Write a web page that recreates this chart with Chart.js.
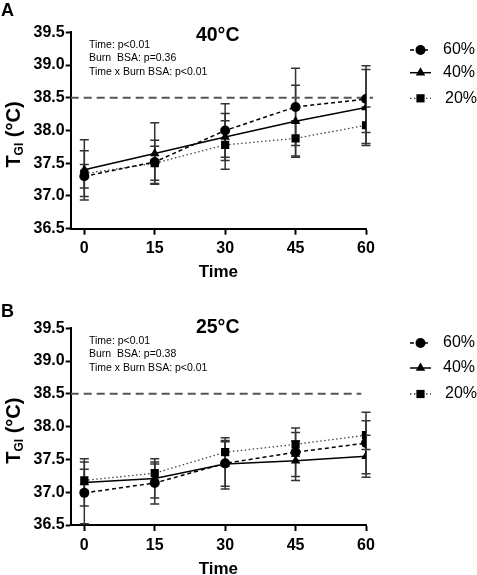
<!DOCTYPE html>
<html>
<head>
<meta charset="utf-8">
<script src="https://cdn.jsdelivr.net/npm/chart.js@4.4.1/dist/chart.umd.min.js"></script>
<style>
  body { margin: 0; background: #fff; }
  #wrap { position: relative; width: 477px; height: 575px; }
  canvas { position: absolute; left: 0; }
</style>
</head>
<body>
<div id="wrap">
  <canvas id="chartA" width="477" height="287" style="top:0"></canvas>
  <canvas id="chartB" width="477" height="288" style="top:287px"></canvas>
</div>
<script>
// --- data ---
var times = [0, 15, 30, 45, 60];
var xTicks = [0, 15, 30, 45, 60];
var yMin = 36.5, yMax = 39.5, yStep = 0.5;
var xMin = -2.9, xMax = 60;
var seriesNames = ['60%', '40%', '20%'];
var refTemp = 38.5;

// panel A, 40°C
var a60 = [37.30, 37.52, 38.00, 38.36, 38.48];
var a60Sd = [0.18, 0.33, 0.41, 0.59, 0.51];
var a40 = [37.40, 37.65, 37.90, 38.14, 38.35];
var a40Sd = [0.46, 0.47, 0.36, 0.55, 0.58];
var a20 = [37.34, 37.50, 37.78, 37.88, 38.08];
var a20Sd = [0.35, 0.26, 0.37, 0.27, 0.28];
var refSpanA = [-2.9, 61.5];
var statsA = ['Time: p<0.01', 'Burn  BSA: p=0.36', 'Time x Burn BSA: p<0.01'];

// panel B, 25°C
var b60 = [36.99, 37.14, 37.44, 37.61, 37.75];
var b60Sd = [0.47, 0.32, 0.39, 0.37, 0.47];
var b40 = [37.15, 37.21, 37.43, 37.48, 37.55];
var b40Sd = [0.36, 0.30, 0.34, 0.30, 0.32];
var b20 = [37.18, 37.29, 37.61, 37.73, 37.87];
var b20Sd = [0.17, 0.14, 0.18, 0.18, 0.22];
var refSpanB = [-2.9, 59];
var statsB = ['Time: p<0.01', 'Burn  BSA: p=0.38', 'Time x Burn BSA: p<0.01'];

var FONT = '"Liberation Sans", Arial, sans-serif';

// line / marker look for 60%, 40%, 20%
var styles = [
    { dash: [4, 3], width: 1.5, color: '#000', point: 'circle', radius: 5 },
    { dash: [], width: 1.5, color: '#000', point: 'triangle', radius: 5.5 },
    { dash: [1.5, 2.5], width: 1.3, color: '#444', point: 'rect', radius: 5.8 }
];

function toPoints(vals) {
    return vals.map(function(v, i) { return { x: times[i], y: v }; });
}

// error bars drawn under the lines and markers
var errorBars = {
    id: 'errorBars',
    beforeDatasetsDraw: function(chart) {
        var ctx = chart.ctx, xs = chart.scales.x, ys = chart.scales.y;
        ctx.save();
        ctx.strokeStyle = '#333';
        ctx.lineWidth = 1.5;
        chart.data.datasets.forEach(function(ds) {
            if (!ds.sd) return;
            ds.data.forEach(function(p, i) {
                var px = xs.getPixelForValue(p.x);
                var top = ys.getPixelForValue(p.y + ds.sd[i]);
                var bot = ys.getPixelForValue(p.y - ds.sd[i]);
                ctx.beginPath();
                ctx.moveTo(px, top); ctx.lineTo(px, bot);
                ctx.moveTo(px - 4.5, top); ctx.lineTo(px + 4.5, top);
                ctx.moveTo(px - 4.5, bot); ctx.lineTo(px + 4.5, bot);
                ctx.stroke();
            });
        });
        ctx.restore();
    }
};

// panel letter, heading, stats, axis titles and legend
var panelText = {
    id: 'panelText',
    afterDraw: function(chart) {
        var o = chart.options.plugins.panelText;
        var ctx = chart.ctx, area = chart.chartArea;
        ctx.save();
        ctx.fillStyle = '#000';

        ctx.font = 'bold 18px ' + FONT;
        ctx.textAlign = 'left';
        ctx.textBaseline = 'alphabetic';
        ctx.fillText(o.letter, 1, o.letterY);

        ctx.font = 'bold 19.5px ' + FONT;
        ctx.textAlign = 'right';
        ctx.fillText(o.heading, 239.5, o.headingY);

        ctx.font = '10.5px ' + FONT;
        ctx.textAlign = 'left';
        ctx.textBaseline = 'middle';
        o.stats.forEach(function(s, i) {
            ctx.fillText(s, 89, o.statsY + i * 13.4);
        });

        // x title
        ctx.font = 'bold 17px ' + FONT;
        ctx.textAlign = 'center';
        ctx.textBaseline = 'alphabetic';
        ctx.fillText('Time', (area.left + area.right) / 2, area.bottom + 48.5);

        // y title: T with subscript GI
        ctx.save();
        ctx.translate(20, (area.top + area.bottom) / 2 + 4);
        ctx.rotate(-Math.PI / 2);
        var big = 'bold 20px ' + FONT, small = 'bold 12px ' + FONT;
        ctx.font = big; var w1 = ctx.measureText('T').width;
        ctx.font = small; var w2 = ctx.measureText('GI').width;
        ctx.font = big; var w3 = ctx.measureText(' (°C)').width;
        var x0 = -(w1 + w2 + w3) / 2;
        ctx.textAlign = 'left';
        ctx.font = big; ctx.fillText('T', x0, 0);
        ctx.font = small; ctx.fillText('GI', x0 + w1, 2.5);
        ctx.font = big; ctx.fillText(' (°C)', x0 + w1 + w2, 0);
        ctx.restore();

        // legend
        ctx.textBaseline = 'middle';
        ctx.textAlign = 'left';
        ctx.font = '16px ' + FONT;
        seriesNames.forEach(function(name, i) {
            var st = styles[i], y = o.legendY[i];
            ctx.save();
            ctx.strokeStyle = st.color;
            ctx.lineWidth = st.width;
            ctx.setLineDash(st.dash);
            ctx.beginPath();
            ctx.moveTo(410, y); ctx.lineTo(431, y);
            ctx.stroke();
            ctx.setLineDash([]);
            ctx.fillStyle = '#000';
            Chart.helpers.drawPoint(ctx, { pointStyle: st.point, radius: st.radius, rotation: 0 }, 420.5, y);
            ctx.restore();
            ctx.fillText(name, i === 2 ? 445 : 443, y);
        });
        ctx.restore();
    }
};

function makeChart(id, vals, sds, refSpan, text, padTop, xHeight) {
    var datasets = vals.map(function(v, i) {
        var st = styles[i];
        return {
            label: seriesNames[i],
            data: toPoints(v),
            sd: sds[i],
            borderColor: st.color,
            borderWidth: st.width,
            borderDash: st.dash,
            pointStyle: st.point,
            pointRadius: st.radius,
            pointBackgroundColor: '#000',
            pointBorderColor: '#000',
            pointBorderWidth: 0,
            tension: 0,
            fill: false
        };
    });
    datasets.push({
        label: 'ref',
        data: [{ x: refSpan[0], y: refTemp }, { x: refSpan[1], y: refTemp }],
        borderColor: '#555',
        borderWidth: 2,
        borderDash: [8, 5],
        pointRadius: 0,
        clip: false,
        order: 5
    });

    return new Chart(document.getElementById(id).getContext('2d'), {
        type: 'line',
        data: { datasets: datasets },
        options: {
            responsive: false,
            animation: false,
            layout: { padding: { top: padTop, right: 111, left: 0, bottom: 0 } },
            plugins: {
                legend: { display: false },
                tooltip: { enabled: false },
                panelText: text
            },
            scales: {
                x: {
                    type: 'linear',
                    min: xMin,
                    max: xMax,
                    afterBuildTicks: function(s) {
                        s.ticks = xTicks.map(function(v) { return { value: v }; });
                    },
                    afterFit: function(s) { s.height = xHeight; },
                    grid: { display: true, drawOnChartArea: false, tickLength: 6, tickWidth: 2, tickColor: '#000' },
                    border: { display: true, color: '#000', width: 2 },
                    ticks: { color: '#000', padding: 4.5, font: { family: FONT, size: 16, weight: 'bold' } }
                },
                y: {
                    min: yMin,
                    max: yMax,
                    afterFit: function(s) { s.width = 70.7; },
                    grid: { display: true, drawOnChartArea: false, tickLength: 5, tickWidth: 2, tickColor: '#000' },
                    border: { display: true, color: '#000', width: 2 },
                    ticks: {
                        stepSize: yStep,
                        color: '#000',
                        padding: 1,
                        font: { family: FONT, size: 16, weight: 'bold' },
                        callback: function(v) { return v.toFixed(1); }
                    }
                }
            }
        },
        plugins: [errorBars, panelText]
    });
}

makeChart('chartA', [a60, a40, a20], [a60Sd, a40Sd, a20Sd], refSpanA, {
    letter: 'A', letterY: 15.5, heading: '40°C', headingY: 41,
    stats: statsA, statsY: 45, legendY: [50, 72.7, 98.3]
}, 32.3, 58.3);

makeChart('chartB', [b60, b40, b20], [b60Sd, b40Sd, b20Sd], refSpanB, {
    letter: 'B', letterY: 29.7, heading: '25°C', headingY: 46.3,
    stats: statsB, statsY: 54, legendY: [56, 81, 107]
}, 41.3, 50);
</script>
</body>
</html>
